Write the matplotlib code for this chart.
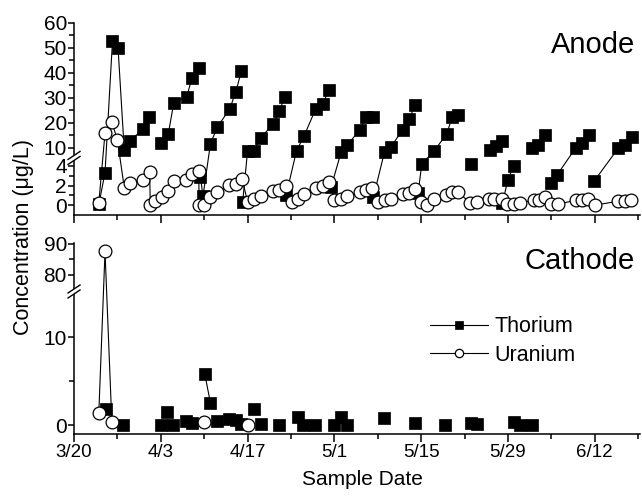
import matplotlib
matplotlib.use("Agg")
import matplotlib.pyplot as plt
import numpy as np
from matplotlib.ticker import FixedLocator, FormatStrFormatter

plt.rcParams["font.family"] = ["Liberation Sans", "DejaVu Sans"]

# x is days after 3/20
TICK_DAYS = [0, 14, 28, 42, 56, 70, 84]
TICK_LABELS = ["3/20", "4/3", "4/17", "5/1", "5/15", "5/29", "6/12"]
MINOR_DAYS = [7, 21, 35, 49, 63, 77, 91]

# --- Anode ---
# seg: points with the same id are joined by a line
th_an_day = [4.0, 5.0, 6.2, 7.1, 8.1, 9.1, 11.1, 12.1,
             14.1, 15.2, 16.1, 18.2, 19.0, 20.2,
             20.4, 20.8, 22.0, 23.1, 25.1, 26.1, 27.0,
             27.2, 28.0, 29.0, 30.1, 32.1, 33.1, 34.0,
             34.2, 35.9, 37.1, 39.0, 40.1, 41.1,
             41.5, 43.1, 44.1, 46.1, 47.1, 48.2,
             48.3, 50.1, 51.1, 53.0, 54.1, 55.0,
             55.5, 56.1, 58.1, 60.1, 61.0, 62.0,
             64.0,
             67.1, 68.0, 69.0,
             69.1, 70.0, 70.9,
             73.9, 74.9, 75.9,
             77.0, 77.9, 80.9, 81.9, 83.0,
             83.9, 87.8, 88.9, 90.0]
th_an_val = [0.1, 3.3, 52.5, 50.0, 9.1, 12.8, 17.4, 22.4,
             11.8, 15.4, 28.0, 30.4, 37.8, 41.8,
             2.9, 0.9, 11.5, 18.2, 25.4, 32.3, 40.7,
             0.3, 8.8, 8.8, 13.8, 19.5, 24.5, 30.3,
             1.0, 8.8, 14.6, 25.6, 27.5, 32.9,
             1.9, 8.4, 11.1, 17.1, 22.4, 22.4,
             0.85, 8.4, 10.2, 17.1, 21.4, 27.1,
             1.2, 4.2, 8.7, 15.4, 22.2, 23.0,
             4.2,
             9.1, 10.7, 12.7,
             0.2, 2.6, 4.0,
             9.8, 11.1, 15.1,
             2.3, 3.06, 9.8, 11.8, 15.1,
             2.45, 9.8, 11.1, 14.3]
th_an_seg = [0] * 8 + [1] * 6 + [2] * 7 + [3] * 7 + [4] * 6 + [5] * 6 + [6] * 6 \
    + [7] * 6 + [8] + [9] * 3 + [10] * 3 + [11] * 3 + [12] * 5 + [13] * 4

u_an_day = [4.0, 5.0, 6.1, 7.0, 8.1, 9.1, 11.1, 12.2, 12.3, 13.1, 14.2, 15.2, 16.1,
            18.1, 19.0, 20.1, 20.2, 21.0, 22.0, 23.1, 25.0, 26.1, 27.1, 28.0, 29.0,
            30.1, 32.1, 33.1, 34.2, 35.1, 36.1, 37.1, 39.0, 40.1, 41.1, 42.0, 43.1,
            44.1, 46.1, 47.1, 48.1, 49.0, 50.1, 51.1, 53.0, 54.0, 55.0, 55.9, 57.0,
            58.1, 60.0, 60.9, 61.9, 63.9, 65.0, 66.9, 67.8, 69.0, 69.8, 70.9, 72.0,
            74.2, 75.0, 76.0, 77.0, 78.0, 81.0, 81.9, 82.9, 84.0, 87.8, 88.8, 89.8]
u_an_val = [0.25, 15.8, 20.2, 13.1, 1.8, 2.3, 2.55, 3.4, 0.0, 0.4, 0.85, 1.46, 2.45,
            2.6, 3.2, 3.5, 0.0, 0.0, 0.85, 1.3, 2.04, 2.14, 2.7, 0.34, 0.58,
            0.92, 1.43, 1.53, 1.94, 0.34, 0.68, 1.09, 1.8, 1.94, 2.4, 0.5, 0.68,
            0.9, 1.36, 1.53, 1.77, 0.34, 0.5, 0.68, 1.19, 1.26, 1.6, 0.34, 0.0,
            0.68, 1.02, 1.36, 1.36, 0.24, 0.34, 0.58, 0.58, 0.68, 0.17, 0.17, 0.27,
            0.51, 0.51, 0.79, 0.1, 0.1, 0.51, 0.51, 0.58, 0.0, 0.41, 0.41, 0.51]

# --- Cathode ---
th_cat_day = [5.1, 7.9, 14.1, 15.0, 16.0, 18.0, 19.0, 21.1, 22.0, 23.0, 25.0, 26.1,
              27.0, 29.1, 30.1, 33.0, 36.1, 36.9, 38.9, 41.9, 43.0, 44.1, 50.0, 55.0,
              59.9, 64.0, 65.0, 70.9, 71.9, 73.9]
th_cat_val = [1.9, 0.0, 0.0, 1.47, 0.0, 0.45, 0.26, 5.8, 2.55, 0.45, 0.72, 0.6,
              0.16, 1.9, 0.16, 0.0, 0.95, 0.0, 0.0, 0.0, 0.95, 0.0, 0.83, 0.27,
              0.0, 0.27, 0.16, 0.34, 0.0, 0.0]
th_cat_seg = [0, 1, 2, 3, 4, 5, 6, 7, 7, 8, 9, 10, 11, 12, 13, 14, 15, 16, 17, 18,
              19, 20, 21, 22, 23, 24, 25, 26, 27, 28]

u_cat_day = [4.0, 5.0, 6.1, 20.9, 28.0]
u_cat_val = [1.4, 87.6, 0.34, 0.34, 0.0]
u_cat_seg = [0, 0, 0, 1, 2]


def gapped(day, val, seg):
    x, y = [], []
    for i in range(len(day)):
        if i and seg[i] != seg[i - 1]:
            x.append(np.nan)
            y.append(np.nan)
        x.append(day[i])
        y.append(val[i])
    return x, y


def broken(lo, hi, k_lo, k_hi, eps=0.2):
    a0, a1 = lo
    b0, _ = hi
    top = (a1 - a0) * k_lo

    def fwd(v):
        v = np.asarray(v, dtype=float)
        return np.where(v <= a1, (v - a0) * k_lo,
                        np.where(v >= b0, top + eps + (v - b0) * k_hi,
                                 top + (v - a1) / (b0 - a1) * eps))

    def inv(t):
        t = np.asarray(t, dtype=float)
        return np.where(t <= top, t / k_lo + a0,
                        np.where(t >= top + eps, (t - top - eps) / k_hi + b0,
                                 a1 + (t - top) / eps * (b0 - a1)))
    return fwd, inv


def break_mark(ax, yval):
    fig = ax.figure
    fig.canvas.draw()
    yf = ax.transAxes.inverted().transform(ax.transData.transform((ax.get_xlim()[0], yval)))[1]
    bb = ax.get_window_extent()
    W, H = bb.width, bb.height
    ax.plot([0, 0], [yf - 2.5 / H, yf + 2.5 / H], transform=ax.transAxes,
            color="white", lw=3, clip_on=False, zorder=5, solid_capstyle="butt")
    for off in (-2.5, 2.5):
        ax.plot([-6 / W, 6 / W], [yf + (off - 4) / H, yf + (off + 4) / H],
                transform=ax.transAxes, color="black", lw=1.0, clip_on=False, zorder=6)


fig = plt.figure(figsize=(6.42, 4.96), dpi=100)
ax_an = fig.add_axes([0.1153, 0.5665, 0.8816, 0.3877])
ax_cat = fig.add_axes([0.1153, 0.125, 0.8816, 0.3845])

th_style = dict(color="black", lw=0.8, marker="s", ms=8.0, mfc="black", mec="black", mew=0.5)
u_style = dict(color="black", lw=0.8, marker="o", ms=9.2, mfc="white", mec="black", mew=0.9)

# anode panel
f, i = broken((-1, 4.8), (5.9, 60), 9.83, 2.5)
ax_an.set_yscale("function", functions=(f, i))
x, y = gapped(th_an_day, th_an_val, th_an_seg)
ax_an.plot(x, y, **th_style)
ax_an.plot(u_an_day, u_an_val, **u_style)
ax_an.set_ylim(-1, 60)
ax_an.yaxis.set_major_locator(FixedLocator([0, 2, 4, 10, 20, 30, 40, 50, 60]))
ax_an.yaxis.set_minor_locator(FixedLocator([1, 3, 15, 25, 35, 45, 55]))
ax_an.text(0.991, 0.842, "Anode", transform=ax_an.transAxes, ha="right",
           va="baseline", fontsize=21)

# cathode panel
f, i = broken((-1, 15.2), (74.6, 90.2), 8.84, 3.1)
ax_cat.set_yscale("function", functions=(f, i))
x, y = gapped(th_cat_day, th_cat_val, th_cat_seg)
ax_cat.plot(x, y, label="Thorium", **th_style)
x, y = gapped(u_cat_day, u_cat_val, u_cat_seg)
ax_cat.plot(x, y, label="Uranium", **u_style)
ax_cat.set_ylim(-1, 90.2)
ax_cat.yaxis.set_major_locator(FixedLocator([0, 10, 80, 90]))
ax_cat.yaxis.set_minor_locator(FixedLocator([5, 85]))
ax_cat.text(0.991, 0.864, "Cathode", transform=ax_cat.transAxes, ha="right",
            va="baseline", fontsize=21)
ax_cat.legend(loc="center left", bbox_to_anchor=(0.67, 0.312),
              bbox_transform=fig.transFigure, frameon=False, fontsize=15.5,
              handlelength=2.7, handletextpad=0.3, labelspacing=0.35,
              borderpad=0, borderaxespad=0, markerscale=0.65)

for ax in (ax_an, ax_cat):
    ax.set_xlim(0, 91.3)
    ax.set_xticks(TICK_DAYS)
    ax.set_xticks(MINOR_DAYS, minor=True)
    ax.yaxis.set_major_formatter(FormatStrFormatter("%d"))
    ax.spines["top"].set_visible(False)
    ax.spines["right"].set_visible(False)
    for s in ("left", "bottom"):
        ax.spines[s].set_linewidth(1.1)
    ax.tick_params(which="major", direction="out", width=1.1)
    ax.tick_params(which="minor", direction="out", length=3.5, width=1.1)
    ax.tick_params(axis="x", which="major", length=6, pad=1.5, labelsize=13.5)
    ax.tick_params(axis="y", which="major", length=4.5, pad=0.6, labelsize=15)
ax_an.tick_params(axis="x", labelbottom=False)
ax_cat.set_xticklabels(TICK_LABELS)

break_mark(ax_an, 5.35)
break_mark(ax_cat, 44.9)

fig.text(0.037, 0.523, "Concentration (μg/L)", rotation=90, ha="center",
         va="center", fontsize=15.5)
fig.text(0.565, 0.022, "Sample Date", ha="center", va="baseline", fontsize=15)

fig.savefig("out.png", dpi=100)
